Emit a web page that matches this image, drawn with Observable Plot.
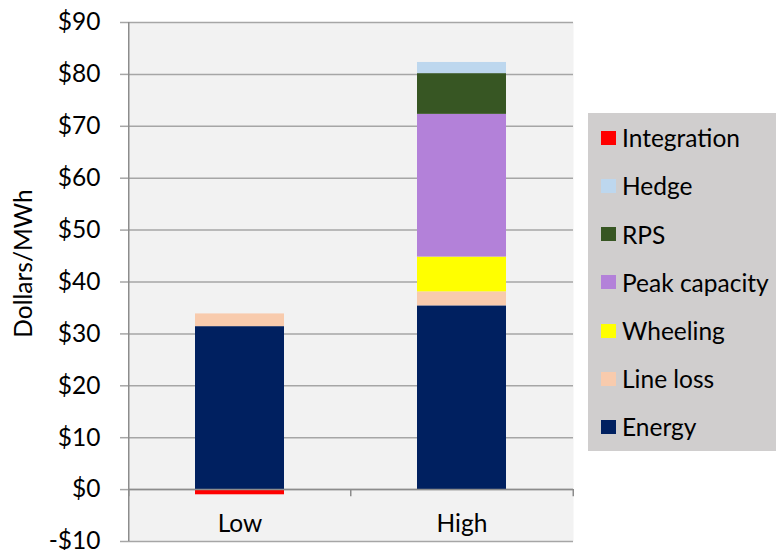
<!DOCTYPE html>
<html>
<head>
<meta charset="utf-8">
<script src="https://cdn.jsdelivr.net/npm/d3@7"></script>
<script src="https://cdn.jsdelivr.net/npm/@observablehq/plot@0.6"></script>
<style>
  html, body { margin: 0; padding: 0; background: #ffffff; }
  #wrap { position: relative; width: 776px; height: 550px; font-family: Lato, "Open Sans", sans-serif; }
  #legend { position: absolute; left: 588px; top: 113px; width: 188px; height: 338px; background: #d0cece; }
  .item { position: absolute; left: 0; height: 24px; display: flex; align-items: center; font-size: 24.5px; color: #000; white-space: nowrap; }
  .sw { width: 15px; height: 14px; margin-left: 13px; margin-right: 6px; flex: none; }
</style>
</head>
<body>
<div id="wrap"></div>
<script>
const categories = ["Low", "High"];
const components = ["Energy", "Line loss", "Wheeling", "Peak capacity", "RPS", "Hedge", "Integration"];
const colors = ["#002060", "#f8cbad", "#ffff00", "#b381d9", "#375623", "#bdd7ee", "#ff0000"];
const lowValues = [31.4, 2.45, 0, 0, 0, 0, -1.0];
const highValues = [35.4, 2.7, 6.7, 27.5, 7.85, 2.15, 0];
const yTicks = [-10, 0, 10, 20, 30, 40, 50, 60, 70, 80, 90];
const legendOrder = ["Integration", "Hedge", "RPS", "Peak capacity", "Wheeling", "Line loss", "Energy"];

const data = [];
components.forEach((c, i) => {
  data.push({cat: "Low", comp: c, value: lowValues[i]});
  data.push({cat: "High", comp: c, value: highValues[i]});
});

const fmt = d => d < 0 ? "-$" + (-d) : "$" + d;
const half = 111.25; // half band step, for boundary ticks
const FS = 24.5;

const chart = Plot.plot({
  width: 776,
  height: 550,
  marginLeft: 128,
  marginRight: 203,
  marginTop: 22,
  marginBottom: 9,
  style: {fontFamily: "Lato, 'Open Sans', sans-serif", fontSize: FS + "px", color: "#000", background: "transparent", overflow: "visible"},
  x: {domain: categories, paddingInner: 0.6, paddingOuter: 0.3, axis: null},
  y: {domain: [-10, 90], axis: null},
  color: {domain: components, range: colors},
  marks: [
    Plot.frame({fill: "#f2f2f2"}),
    Plot.ruleY(yTicks, {stroke: "#a6a6a6", strokeWidth: 1.5}),
    Plot.axisY({ticks: yTicks, tickSize: 8, tickPadding: 20, tickFormat: fmt, stroke: "#a6a6a6", strokeWidth: 1.5, fontSize: FS, label: null}),
    Plot.barY(data, Plot.stackY({x: "cat", y: "value", fill: "comp", order: components})),
    Plot.ruleY([0], {stroke: "#8c8c8c", strokeWidth: 1.5}),
    Plot.ruleX(["Low"], {x: d => d, dx: -half, stroke: "#8c8c8c", strokeWidth: 1.5}),
    Plot.ruleX(categories, {x: d => d, dx: -half, y1: 0, y2: -1.4, stroke: "#8c8c8c", strokeWidth: 1.5}),
    Plot.ruleX(["High"], {x: d => d, dx: half, y1: 0, y2: -1.4, stroke: "#8c8c8c", strokeWidth: 1.5}),
    Plot.text(categories, {x: d => d, y: -6.7, text: d => d, fontSize: FS, fill: "#000"}),
    Plot.text(["Dollars/MWh"], {text: d => d, frameAnchor: "left", textAnchor: "middle", rotate: -90, dx: -104, dy: -18.5, fontSize: FS, fill: "#000"})
  ]
});

const wrap = document.getElementById("wrap");
wrap.appendChild(chart);

const legend = document.createElement("div");
legend.id = "legend";
legendOrder.forEach((name, i) => {
  const item = document.createElement("div");
  item.className = "item";
  item.style.top = (12.7 + i * 48.2) + "px";
  const sw = document.createElement("div");
  sw.className = "sw";
  sw.style.background = colors[components.indexOf(name)];
  const label = document.createElement("span");
  label.textContent = name;
  item.appendChild(sw);
  item.appendChild(label);
  legend.appendChild(item);
});
wrap.appendChild(legend);
</script>
</body>
</html>
